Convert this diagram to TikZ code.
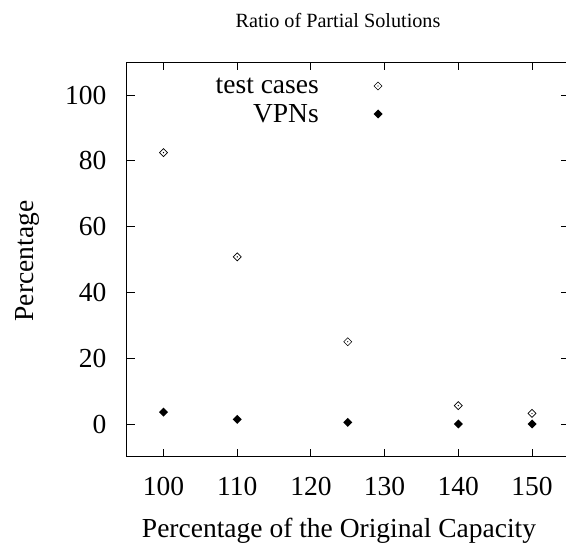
\documentclass[tikz,border=0pt]{standalone}
\usepackage{fontspec}
\setmainfont{Liberation Serif}
\begin{document}
\begin{tikzpicture}[
  lbl/.style={font=\fontsize{27.5}{27.5}\selectfont, inner sep=0pt},
  ttl/.style={font=\fontsize{20.2}{20.2}\selectfont, inner sep=0pt},
  frame/.style={line width=0.9pt}
]
\useasboundingbox (0,0) rectangle (566pt,550pt);
\fill[white] (0,0) rectangle (566pt,550pt);
\node[ttl] (title) at (338pt,530pt) {Ratio of Partial Solutions};
\node[lbl, rotate=90] (ylab) at (27pt,289pt) {Percentage};
\node[lbl] (xlab) at (339pt,19pt) {Percentage of the Original Capacity};
\begin{scope}[shift={(-573.5pt,126pt)}, x=7.37pt, y=3.29pt]
  \draw[frame] (95,-10) rectangle (155,110);
  \foreach \v in {100,110,120,130,140,150}{
    \draw[frame] (\v,-10) -- ++(0,8pt);
    \draw[frame] (\v,110) -- ++(0,-8pt);
    \node[lbl, anchor=center] (xt\v) at ([yshift=-30pt]\v,-10) {\v};
  }
  \foreach \v in {0,20,40,60,80,100}{
    \draw[frame] (95,\v) -- ++(8pt,0);
    \draw[frame] (155,\v) -- ++(-8pt,0);
    \node[lbl, anchor=east] (yt\v) at ([xshift=-20pt]95,\v) {\v};
  }
  % test cases: open diamond with dot
  \foreach \x/\y [count=\i] in {100/82.5,110/50.8,125/25,140/5.6,150/3.2}{
    \draw[line width=0.7pt] (\x,\y) ++(0,4pt) -- ++(4pt,-4pt) -- ++(-4pt,-4pt) -- ++(-4pt,4pt) -- cycle;
    \fill (\x,\y) circle (0.7pt);
    \coordinate (tc\i) at (\x,\y);
  }
  % VPNs: filled diamond
  \foreach \x/\y [count=\i] in {100/3.6,110/1.4,125/0.5,140/0,150/0}{
    \fill (\x,\y) ++(0,4.5pt) -- ++(4.5pt,-4.5pt) -- ++(-4.5pt,-4.5pt) -- ++(-4.5pt,4.5pt) -- cycle;
    \coordinate (vp\i) at (\x,\y);
  }
\end{scope}
% legend
\node[lbl, anchor=east] (leg1) at (319pt,464pt) {test cases};
\node[lbl, anchor=east] (leg2) at (319pt,436pt) {VPNs};
\draw[line width=0.7pt] (378pt,464pt) ++(0,4pt) -- ++(4pt,-4pt) -- ++(-4pt,-4pt) -- ++(-4pt,4pt) -- cycle;
\fill (378pt,464pt) circle (0.7pt);
\fill (378pt,436pt) ++(0,4.5pt) -- ++(4.5pt,-4.5pt) -- ++(-4.5pt,-4.5pt) -- ++(-4.5pt,4.5pt) -- cycle;
\end{tikzpicture}
\end{document}
